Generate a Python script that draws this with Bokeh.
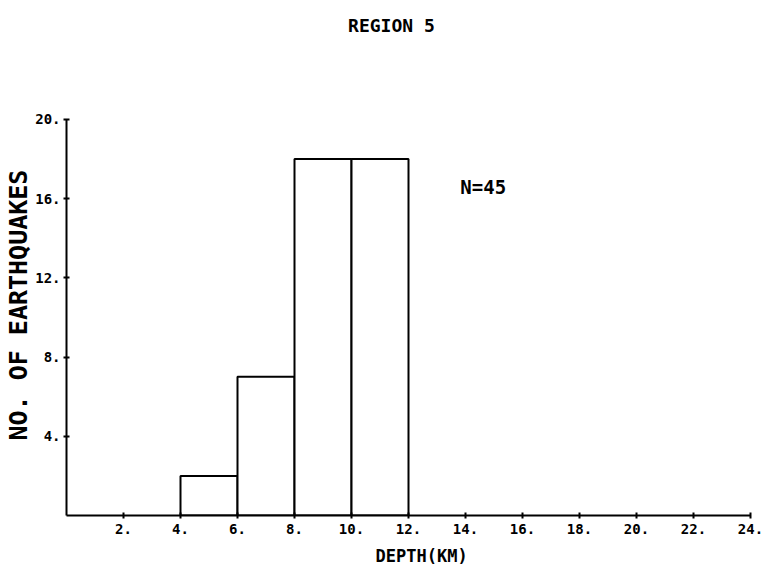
from bokeh.plotting import figure
from bokeh.models import Range1d, FixedTicker, Label, Title
from bokeh.embed import file_html
from bokeh.resources import INLINE

# Earthquake depth histogram, 2 km bins
bin_left = [4, 6, 8, 10]
bin_right = [6, 8, 10, 12]
counts = [2, 7, 18, 18]

x_ticks = [2, 4, 6, 8, 10, 12, 14, 16, 18, 20, 22, 24]
y_ticks = [4, 8, 12, 16, 20]
x_tick_labels = {t: f"{t}." for t in x_ticks}
y_tick_labels = {t: f"{t}." for t in y_ticks}

FONT = "DejaVu Sans Mono"

# the data area runs up past the last tick so the heading sits inside it;
# the axes themselves stop at 0..24 and 0..20
p = figure(width=770, height=577, output_backend="svg", toolbar_location=None,
           title=None,
           x_range=Range1d(0, 24), y_range=Range1d(0, 26.0),
           min_border_left=66, min_border_right=20,
           min_border_top=0, min_border_bottom=62)

p.quad(left=bin_left, right=bin_right, bottom=0, top=counts,
       fill_color="white", line_color="black", line_width=2)

p.outline_line_color = None
p.xgrid.visible = False
p.ygrid.visible = False

for ax, ticks, labels in ((p.xaxis[0], x_ticks, x_tick_labels),
                          (p.yaxis[0], y_ticks, y_tick_labels)):
    ax.ticker = FixedTicker(ticks=ticks)
    ax.major_label_overrides = labels
    ax.minor_tick_line_color = None
    ax.axis_line_width = 2
    ax.major_tick_line_width = 2
    ax.major_tick_in = 3
    ax.major_tick_out = 3
    ax.major_label_text_font = FONT
    ax.major_label_text_font_style = "bold"
    ax.major_label_text_font_size = "14px"
    ax.major_label_text_color = "black"

p.xaxis.bounds = (0, 24)
p.yaxis.bounds = (0, 20)
p.xaxis.major_label_standoff = 5
p.yaxis.major_label_standoff = 3

# axis titles, placed from the frame's lower-left corner
p.add_layout(Title(text="DEPTH(KM)", align="left", offset=309,
                   text_font=FONT, text_font_style="bold",
                   text_font_size="17px", text_color="black",
                   standoff=14), "below")
p.add_layout(Title(text="NO. OF EARTHQUAKES", align="left", offset=75,
                   text_font=FONT, text_font_style="bold",
                   text_font_size="25px", text_color="black",
                   standoff=0), "left")

p.add_layout(Label(x=11.4, y=24.75, text="REGION 5", text_align="center",
                   text_baseline="middle", text_font=FONT,
                   text_font_style="bold", text_font_size="18px",
                   text_color="black"))
p.add_layout(Label(x=13.82, y=16.6, text="N=45", text_align="left",
                   text_baseline="middle", text_font=FONT,
                   text_font_style="bold", text_font_size="19px",
                   text_color="black"))

open("out.html", "w").write(file_html(p, INLINE))
